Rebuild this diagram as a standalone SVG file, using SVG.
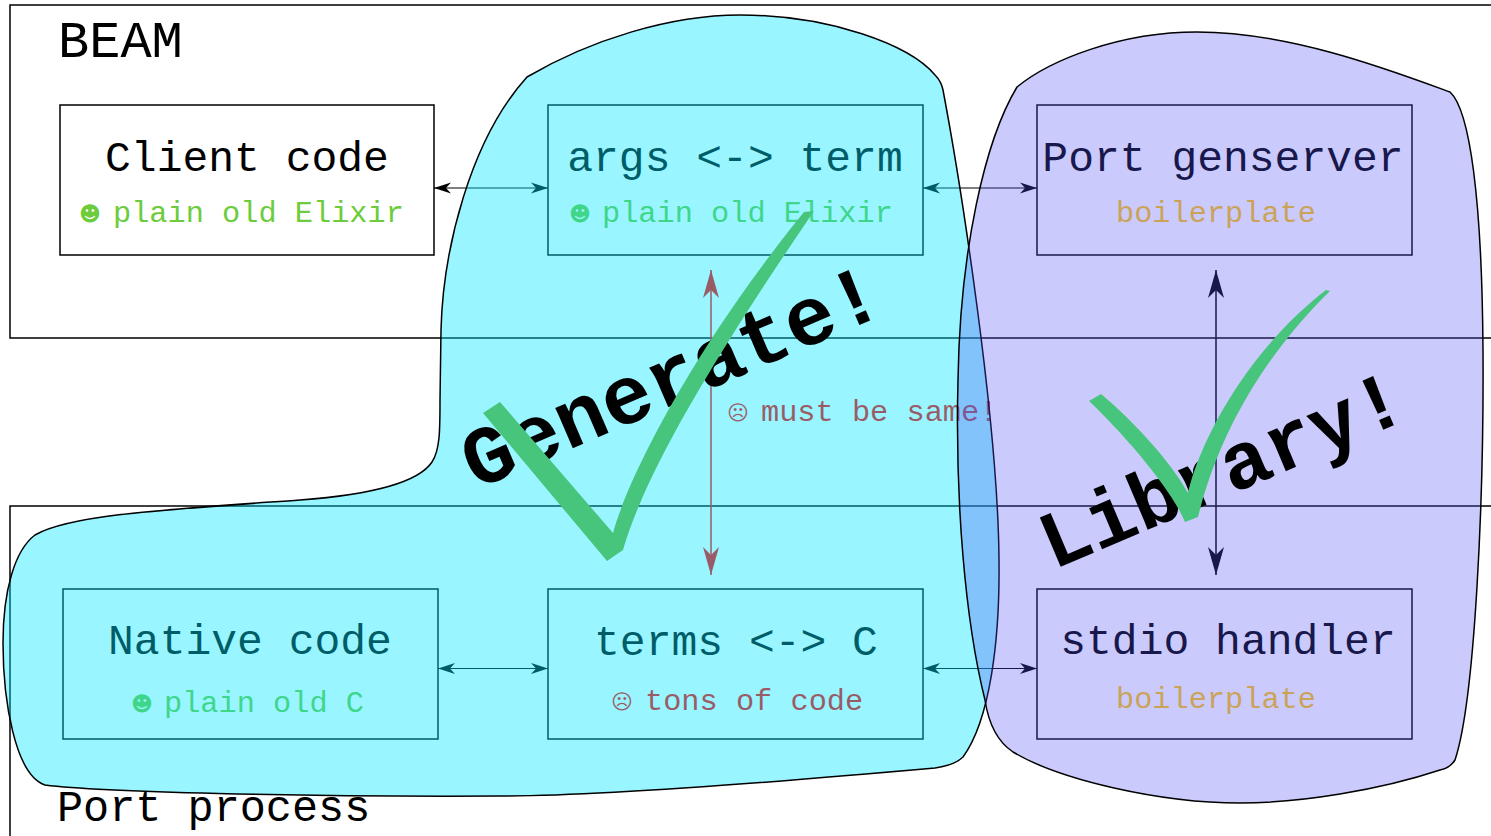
<svg xmlns="http://www.w3.org/2000/svg" width="1491" height="836" viewBox="0 0 1491 836">
<defs>
<style>
.frame{fill:none;stroke:#000;stroke-width:1.5}
.box{fill:none;stroke:#000;stroke-width:1.5}
.t{font-family:"Liberation Mono","DejaVu Sans Mono",monospace;fill:#000}
.title{font-size:43px;text-anchor:middle}
.sub{font-size:30.3px}
.sym{font-family:"DejaVu Sans",sans-serif;font-size:21px}
.green{fill:#6ccc3c}
.gold{fill:#ffc814}
.red{fill:#ff0000}
.conn{fill:none;stroke:#000;stroke-width:1.2}
.vconn{fill:none;stroke-width:1.5}
.blob{stroke:#000;stroke-width:1.5}
.big{font-family:"Liberation Mono","Courier New",monospace;font-weight:bold;fill:#000}
.check{fill:#48c57d}
</style>
<marker id="ah" markerUnits="userSpaceOnUse" markerWidth="18" markerHeight="12" viewBox="0 0 18 12" refX="17" refY="6" orient="auto-start-reverse"><path d="M0,0.5 L17,6 L0,11.5 L5,6 Z" fill="#000"/></marker>
<marker id="bigk" markerUnits="userSpaceOnUse" markerWidth="28" markerHeight="16" viewBox="0 0 28 16" refX="28" refY="8" orient="auto-start-reverse"><path d="M0,0 L28,8 L0,16 L8,8 Z" fill="#000"/></marker>
<marker id="bigr" markerUnits="userSpaceOnUse" markerWidth="28" markerHeight="16" viewBox="0 0 28 16" refX="28" refY="8" orient="auto-start-reverse"><path d="M0,0 L28,8 L0,16 L8,8 Z" fill="#ff0000"/></marker>
</defs>
<rect width="1491" height="836" fill="#fff"/>

<g id="beam">
<rect class="frame" x="10" y="5" width="1500" height="333"/>
<text class="t" x="58" y="57" font-size="52">BEAM</text>
</g>
<g id="port-process">
<rect class="frame" x="10" y="506" width="1500" height="345"/>
<text class="t" x="57" y="821" font-size="43.5">Port process</text>
</g>

<g id="client-code">
<rect class="box" x="60" y="105" width="374" height="150"/>
<text class="t title" x="247" y="171">Client code</text>
<text class="t sub green"><tspan class="sym" x="79" y="221">☻</tspan><tspan x="113" y="222">plain old Elixir</tspan></text>
</g>
<g id="args-term">
<rect class="box" x="548" y="105" width="375" height="150"/>
<text class="t title" x="735" y="171">args &lt;-&gt; term</text>
<text class="t sub green"><tspan class="sym" x="569" y="221">☻</tspan><tspan x="602" y="222">plain old Elixir</tspan></text>
</g>
<g id="port-genserver">
<rect class="box" x="1037" y="105" width="375" height="150"/>
<text class="t title" x="1223" y="171">Port genserver</text>
<text class="t sub gold" x="1116" y="222">boilerplate</text>
</g>
<g id="native-code">
<rect class="box" x="63" y="589" width="375" height="150"/>
<text class="t title" x="250" y="654">Native code</text>
<text class="t sub green"><tspan class="sym" x="131" y="711">☻</tspan><tspan x="164" y="712">plain old C</tspan></text>
</g>
<g id="terms-c">
<rect class="box" x="548" y="589" width="375" height="150"/>
<text class="t title" x="736" y="655">terms &lt;-&gt; C</text>
<text class="t sub red"><tspan class="sym" x="611" y="709">☹</tspan><tspan x="645" y="710">tons of code</tspan></text>
</g>
<g id="stdio-handler">
<rect class="box" x="1037" y="589" width="375" height="150"/>
<text class="t title" x="1228" y="654">stdio handler</text>
<text class="t sub gold" x="1116" y="708">boilerplate</text>
</g>

<g id="connectors">
<line class="conn" x1="434" y1="188" x2="548" y2="188" marker-start="url(#ah)" marker-end="url(#ah)"/>
<line class="conn" x1="923" y1="188" x2="1037" y2="188" marker-start="url(#ah)" marker-end="url(#ah)"/>
<line class="conn" x1="438" y1="668.5" x2="548" y2="668.5" marker-start="url(#ah)" marker-end="url(#ah)"/>
<line class="conn" x1="923" y1="668.5" x2="1037" y2="668.5" marker-start="url(#ah)" marker-end="url(#ah)"/>
<line class="vconn" stroke="#ff0000" x1="711" y1="270" x2="711" y2="575" marker-start="url(#bigr)" marker-end="url(#bigr)"/>
<line class="vconn" stroke="#000" x1="1216" y1="270" x2="1216" y2="575" marker-start="url(#bigk)" marker-end="url(#bigk)"/>
<text class="t sub red"><tspan class="sym" x="727" y="420">☹</tspan><tspan x="761" y="421">must be same!</tspan></text>
</g>

<g id="generate-region">
<path class="blob" fill="#00e6ff" fill-opacity="0.4" d="M527,77 C590,40 670,15 740,15 C830,15 910,45 935,75 C940,80 942,85 943,90 C960,180 998,420 999,560 C1000,640 990,720 963,757 Q955,765 935,768 C800,780 600,796 500,796 C300,797 100,792 45,785 C15,775 3,700 3,643 C3,590 15,550 35,535 C70,515 160,510 300,500 C380,494 420,480 432,462 C440,450 440,430 440,400 L441,330 C443,250 470,140 527,77 Z"/>
</g>
<g id="library-region">
<path class="blob" fill="#4e4ef5" fill-opacity="0.3" d="M1017,87 C1050,60 1120,32 1197,32 C1290,32 1390,70 1450,92 C1470,110 1482,200 1483,350 C1484,500 1475,700 1455,760 Q1450,768 1440,770 C1380,790 1300,803 1240,803 C1160,803 1060,780 1013,752 C995,740 988,720 985,700 C965,620 955,500 958,380 C960,250 985,140 1017,87 Z"/>
</g>

<g id="generate-label">
<text class="big" font-size="83" transform="translate(476,490) rotate(-23.3)">Generate!</text>
<path class="check" d="M483,413 L500,402 L613,533 C628,478 692,350 804,212 L814,211 C718,352 646,470 623,550 L607,561 Z"/>
</g>
<g id="library-label">
<text class="big" font-size="81" transform="translate(1053,570) rotate(-23)">Library!</text>
<path class="check" d="M1089,401 L1101,394 C1130,418 1170,460 1188,493 C1200,440 1248,350 1326,290 L1330,291 C1275,345 1222,420 1198,517 L1185,522 C1172,490 1125,435 1089,401 Z"/>
</g>
</svg>
